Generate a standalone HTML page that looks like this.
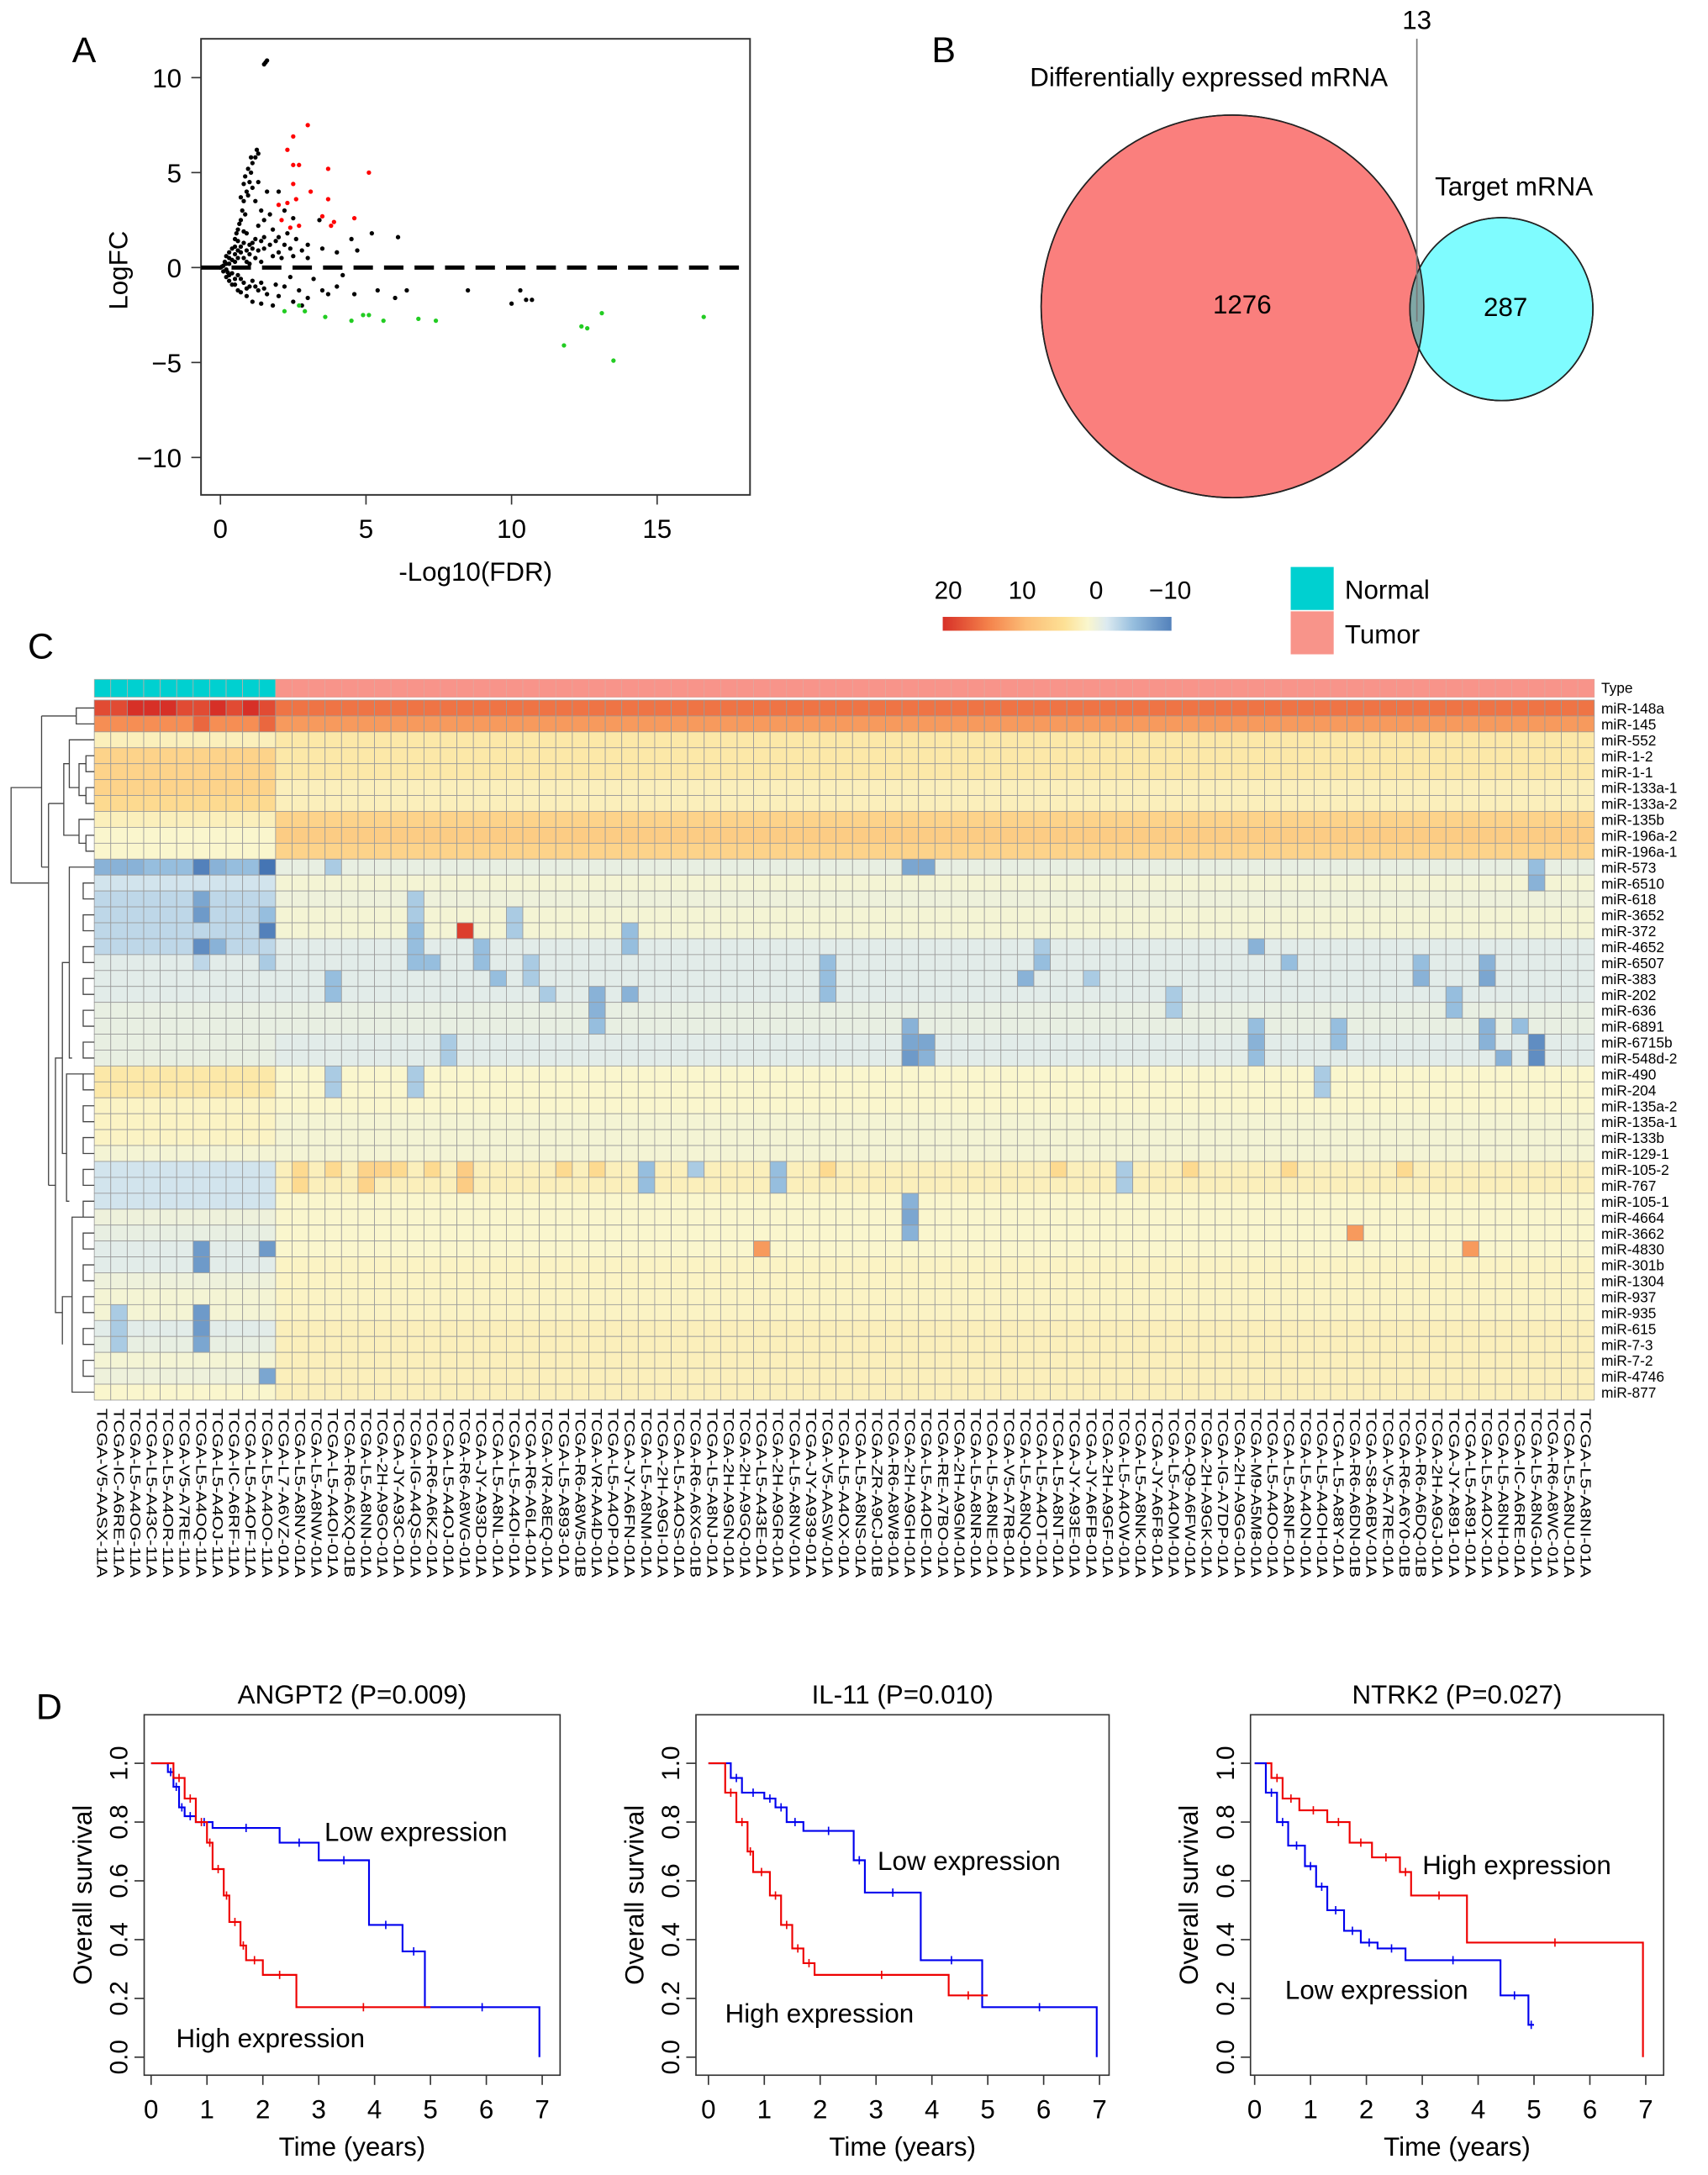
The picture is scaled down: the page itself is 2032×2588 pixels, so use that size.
<!DOCTYPE html>
<html><head><meta charset="utf-8">
<style>
html,body{margin:0;padding:0;background:#fff;}
svg{display:block;font-family:"Liberation Sans",Arial,sans-serif;}
</style></head>
<body>
<svg id="fig" width="2032" height="2588" viewBox="0 0 1232 1569" preserveAspectRatio="none" xmlns="http://www.w3.org/2000/svg">
<rect x="0" y="0" width="1232" height="1569" fill="#fff"/>
<g id="gA"></g>
<g id="gB"></g>
<g id="gC"></g>
<g id="gD"></g>
</svg>
<script>
// ---------- Panel A data ----------
const volBlack = [[1.6,10.9],[1.5,10.7],[1.55,10.8],[0.3,0.5],[0.4,1],[0.5,1.5],[0.6,2],[0.7,2.5],[0.75,3],[0.8,3.5],[0.9,4],[1.0,4.5],[1.05,5],[1.1,5.5],[1.2,5.8],[1.3,6],[0.95,3.8],[1.1,4.2],[0.85,2.8],[1.2,3.5],[1.4,3],[1.5,2.5],[1.8,2],[2.0,1.6],[2.3,1.8],[2.6,1.5],[3.0,1.2],[3.5,1.0],[4.0,0.8],[1.6,4],[2.0,4],[2.2,3],[1.3,4.5],[1.0,1.2],[1.5,1.0],[2.0,0.8],[2.5,0.6],[3,0.5],[4.5,1.5],[5.2,1.8],[4.7,0.9],[6.1,1.6],[0.2,0.2],[0.5,0.3],[0.8,0.5],[1.2,0.5],[0,0],[0.1,-0.2],[0.3,-0.4],[0.5,-0.6],[0.8,-0.8],[1.0,-1.0],[1.3,-1.2],[1.6,-1.4],[2,-1.5],[2.5,-1.8],[3,-1.6],[3.5,-1.2],[4,-1.0],[4.6,-1.4],[5.4,-1.2],[6,-1.6],[6.4,-1.2],[2.2,-1.0],[1.8,-2.0],[2.8,-2.0],[0.7,-1.3],[1.1,-1.8],[1.4,-1.9],[0.4,-0.9],[0.6,-1.2],[0.9,-1.5],[8.5,-1.2],[10.3,-1.2],[10.5,-1.7],[10.0,-1.9],[10.7,-1.7],[3.2,-0.6],[2.4,-0.5],[4.2,-0.4],[0.2,0.6],[0.6,0.9],[1.3,2.2],[1.7,2.8],[2.5,2.6],[3.4,2.5],[0.9,1.8],[1.1,1.3],[0.7,0.8],[1.4,0.3],[1.8,0.6],[0.4,-0.3],[1.9,-0.9],[2.7,-1.2],[3.7,-1.4],
[0.1,0.1],[0.2,-0.1],[0.3,0.2],[0.4,0.4],[0.5,0.7],[0.6,0.5],[0.7,1.1],[0.8,1.3],[0.9,0.9],[1.0,0.7],[1.1,1.0],[1.2,1.5],[1.3,0.9],[1.4,1.4],[1.5,1.6],[0.6,1.4],[0.8,1.9],[0.5,1.1],[0.3,0.8],[0.9,0.3],[1.0,0.2],[0.2,-0.5],[0.3,-0.7],[0.5,-0.9],[0.6,-0.4],[0.7,-0.6],[0.9,-1.1],[1.1,-0.7],[1.2,-1.0],[1.4,-0.8],[1.5,-1.1],[0.85,4.8],[0.95,5.2],[1.05,5.8],[0.8,4.4],[0.7,3.7],[1.25,6.2],[0.65,2.3],[0.55,1.8],[1.7,1.2],[2.2,1.2],[2.4,1.0],[2.8,0.9],[1.9,1.4],[2.1,0.5],[0.05,0.05],[0.15,0.3],[0.25,-0.25]];
const volRed = [[2.0,3.3],[2.3,3.4],[2.3,6.2],[2.5,5.4],[2.5,6.9],[3.0,7.5],[2.7,5.4],[3.7,5.2],[3.1,4.0],[3.7,3.6],[5.1,5.0],[2.1,2.5],[2.4,2.1],[2.7,2.2],[3.5,2.7],[3.8,2.2],[4.6,2.6],[2.5,4.4],[2.6,3.6],[3.9,2.4]];
const volGreen = [[2.2,-2.3],[2.7,-2.0],[2.9,-2.3],[3.6,-2.6],[4.5,-2.8],[4.9,-2.5],[5.1,-2.5],[5.6,-2.8],[6.8,-2.7],[7.4,-2.8],[11.8,-4.1],[12.4,-3.1],[12.6,-3.2],[13.1,-2.4],[13.5,-4.9],[16.6,-2.6]];
const volXTicks = [0,5,10,15];
const volYTicks = [10,5,0,-5,-10];

// ---------- Panel C data ----------
const mirRows = ["miR-148a","miR-145","miR-552","miR-1-2","miR-1-1","miR-133a-1","miR-133a-2","miR-135b","miR-196a-2","miR-196a-1","miR-573","miR-6510","miR-618","miR-3652","miR-372","miR-4652","miR-6507","miR-383","miR-202","miR-636","miR-6891","miR-6715b","miR-548d-2","miR-490","miR-204","miR-135a-2","miR-135a-1","miR-133b","miR-129-1","miR-105-2","miR-767","miR-105-1","miR-4664","miR-3662","miR-4830","miR-301b","miR-1304","miR-937","miR-935","miR-615","miR-7-3","miR-7-2","miR-4746","miR-877"];
const normalSamples = ["V5-AASX-11A","IC-A6RE-11A","L5-A4OG-11A","L5-A43C-11A","L5-A4OR-11A","V5-A7RE-11A","L5-A4OQ-11A","L5-A4OJ-11A","IC-A6RF-11A","L5-A4OF-11A","L5-A4OO-11A"];
const tumorSamples = ["L7-A6VZ-01A","L5-A8NV-01A","L5-A8NW-01A","L5-A4OI-01A","R6-A6XQ-01B","L5-A8NN-01A","2H-A9GO-01A","JY-A93C-01A","IG-A4QS-01A","R6-A6KZ-01A","L5-A4OJ-01A","R6-A8WG-01A","JY-A93D-01A","L5-A8NL-01A","L5-A4OI-01A","R6-A6L4-01A","VR-A8EQ-01A","L5-A893-01A","R6-A8W5-01B","VR-AA4D-01A","L5-A4OP-01A","JY-A6FN-01A","L5-A8NM-01A","2H-A9GI-01A","L5-A4OS-01A","R6-A6XG-01B","L5-A8NJ-01A","2H-A9GN-01A","2H-A9GQ-01A","L5-A43E-01A","2H-A9GR-01A","L5-A8NV-01A","JY-A939-01A","V5-AASW-01A","L5-A4OX-01A","L5-A8NS-01A","ZR-A9CJ-01B","R6-A8W8-01A","2H-A9GH-01A","L5-A4OE-01A","RE-A7BO-01A","2H-A9GM-01A","L5-A8NR-01A","L5-A8NE-01A","V5-A7RB-01A","L5-A8NQ-01A","L5-A4OT-01A","L5-A8NT-01A","JY-A93E-01A","JY-A6FB-01A","2H-A9GF-01A","L5-A4OW-01A","L5-A8NK-01A","JY-A6F8-01A","L5-A4OM-01A","Q9-A6FW-01A","2H-A9GK-01A","IG-A7DP-01A","2H-A9GG-01A","M9-A5M8-01A","L5-A4OO-01A","L5-A8NF-01A","L5-A4ON-01A","L5-A4OH-01A","L5-A88Y-01A","R6-A6DN-01B","S8-A6BV-01A","V5-A7RE-01A","R6-A6Y0-01B","R6-A6DQ-01B","2H-A9GJ-01A","JY-A891-01A","L5-A891-01A","L5-A4OX-01A","L5-A8NH-01A","IC-A6RE-01A","L5-A8NG-01A","R6-A8WC-01A","L5-A8NU-01A","L5-A8NI-01A"];
const normalMean = [18,13,2,6,6,6,5,2,1,1,-5,-2,-3,-3,-3,-3,-1,-1,-1,-0.5,-0.5,-0.5,-0.5,3,3,1.5,1.5,1.5,0.5,-2,-2,-2,0,-0.5,-1,-1,0,0.5,0.5,-1,-0.5,0.5,0,1];
const tumorMean = [15,12,3,3,3,2,2,6,7,6,-0.5,0.5,0,0.5,0.5,-1,-1,-1,-1,-0.5,-0.5,-1,-1,1,1,1,0.5,0.5,0.5,2,2,1,1,1,1,1.5,1.5,1.5,1.5,2,2,2,2,2];
// notable cells: [row, col, value]
const cellOverrides = [[14,22,19],[0,2,20],[0,3,20],[0,4,20],[0,7,20],[0,9,20],[1,6,16],[1,10,16],
[10,6,-10],[10,10,-11],[10,0,-6],[10,1,-6],[10,2,-6],[10,3,-5],[10,4,-5],[10,7,-6],[10,49,-7],[10,50,-7],[10,87,-5],
[11,87,-6],[12,6,-7],[13,6,-8],[13,10,-5],[14,10,-10],[15,6,-9],[15,7,-6],[16,6,-3],[16,10,-4],
[17,56,-6],[18,32,-6],[21,49,-7],[21,50,-7],[21,87,-9],[22,49,-8],[22,50,-6],[22,87,-9],[22,85,-6],[20,49,-6],[32,49,-7],[33,49,-6],
[29,12,5],[29,14,5],[29,16,6],[29,17,6],[29,18,5],[29,20,5],[29,22,7],[30,12,5],[30,16,6],[30,22,7],[29,44,5],[29,58,5],
[33,76,12],[34,40,12],[34,83,12],[34,6,-8],[34,10,-8],[35,6,-8],[38,6,-8],[39,6,-8],[40,6,-7],[42,10,-7],[38,1,-4],[39,1,-4],[40,1,-4],
[14,32,-5],[15,32,-5],[16,20,-5],[17,24,-5],[18,27,-4],[15,70,-6],[16,72,-5],[17,80,-6],[18,82,-5],[16,84,-6],[17,84,-7],[19,82,-5],
[10,14,-4],[12,19,-4],[13,19,-4],[14,19,-5],[15,19,-5],[16,19,-5],[17,14,-5],[18,14,-5],[15,23,-5],[16,23,-5],[16,26,-4],[17,26,-4],[18,30,-6],[19,30,-6],[20,30,-5],[21,21,-4],[22,21,-4],[23,14,-4],[24,14,-4],[23,19,-4],[24,19,-4],[13,25,-4],[14,25,-4],
[16,44,-5],[17,44,-5],[18,44,-5],[15,57,-4],[16,57,-5],[17,60,-4],[18,65,-4],[19,65,-4],[20,70,-5],[21,70,-6],[22,70,-5],[20,75,-5],[21,75,-5],[16,80,-5],[20,84,-6],[21,84,-6],[20,86,-5],[23,74,-4],[24,74,-4],
[29,33,-5],[30,33,-5],[29,36,-4],[29,41,-5],[30,41,-5],[31,49,-6],[29,62,-4],[30,62,-4],[29,66,5],[29,72,5],[29,79,5],[29,28,5],[29,30,5]];
const legendTicks = [20,10,0,-10];

// ---------- Panel D data ----------
const kmTitles = ["ANGPT2 (P=0.009)","IL-11 (P=0.010)","NTRK2 (P=0.027)"];
const km1LowT = [0,0.3,0.4,0.5,0.6,0.8,1.1,2.3,3.0,3.9,4.5,4.9,6.95];
const km1LowS = [1,0.97,0.92,0.85,0.82,0.80,0.78,0.73,0.67,0.45,0.36,0.17,0];
const km1HighT = [0,0.4,0.6,0.8,1.0,1.1,1.3,1.4,1.6,1.7,2.0,2.6,5.0];
const km1HighS = [1,0.95,0.88,0.80,0.73,0.64,0.55,0.46,0.38,0.33,0.28,0.17,0.17];
const km2LowT = [0,0.4,0.6,1.0,1.2,1.4,1.7,2.6,2.8,3.8,4.9,6.95];
const km2LowS = [1,0.95,0.90,0.88,0.85,0.80,0.77,0.67,0.56,0.33,0.17,0];
const km2HighT = [0,0.3,0.5,0.7,0.8,1.1,1.3,1.5,1.7,1.9,4.3,5.0];
const km2HighS = [1,0.9,0.8,0.7,0.63,0.55,0.45,0.37,0.32,0.28,0.21,0.21];
const km3HighT = [0,0.3,0.5,0.8,1.3,1.7,2.1,2.6,2.8,3.8,6.95];
const km3HighS = [1,0.95,0.88,0.84,0.80,0.73,0.68,0.63,0.55,0.39,0];
const km3LowT = [0,0.2,0.4,0.6,0.9,1.1,1.3,1.6,1.9,2.2,2.7,4.4,4.9,5.0];
const km3LowS = [1,0.9,0.8,0.72,0.65,0.58,0.5,0.43,0.39,0.37,0.33,0.21,0.11,0.11];
const kmXTicks = [0,1,2,3,4,5,6,7];
const kmYTicks = [0,0.2,0.4,0.6,0.8,1.0];

const NS="http://www.w3.org/2000/svg";
function mk(parent,tag,attrs,text){const e=document.createElementNS(NS,tag);for(const k in attrs)e.setAttribute(k,attrs[k]);if(text!==undefined)e.textContent=text;parent.appendChild(e);return e;}

// ===== Panel A =====
(function(){
const g=document.getElementById('gA');
const xS=v=>159+v*21.0, yS=v=>193-v*13.7;
let t=mk(g,'text',{x:52,y:45,'font-size':26},'A');


let b=mk(g,'rect',{x:145,y:28,width:396,height:329,fill:'none',stroke:'#333','stroke-width':1.2});


let dl=mk(g,'line',{x1:145,x2:541,y1:yS(0),y2:yS(0),stroke:'#000','stroke-width':3,'stroke-dasharray':'14 8'});


volXTicks.forEach(v=>{mk(g,'line',{x1:xS(v),x2:xS(v),y1:357,y2:364,stroke:'#333'});
 let l=mk(g,'text',{x:xS(v),y:388,'font-size':19,'text-anchor':'middle'},String(v));
 
 });
volYTicks.forEach(v=>{mk(g,'line',{x1:138,x2:145,y1:yS(v),y2:yS(v),stroke:'#333'});
 let l=mk(g,'text',{x:131,y:yS(v)+7,'font-size':19,'text-anchor':'end'},v<0?'\u2212'+(-v):String(v));
 
 });
let xt=mk(g,'text',{x:343,y:419,'font-size':19,'text-anchor':'middle'},'-Log10(FDR)');


let yt=mk(g,'text',{x:0,y:0,'font-size':19,'text-anchor':'middle',transform:'translate(92,195) rotate(-90)'},'LogFC');


[[volBlack,'#000'],[volRed,'#f00'],[volGreen,'#2c2']].forEach(([arr,c])=>arr.forEach(p=>{
 let d=mk(g,'circle',{cx:xS(p[0]),cy:yS(p[1]),r:1.6,fill:c});
 
 }));
})();

// ===== Panel B =====
(function(){
const g=document.getElementById('gB');
let t=mk(g,'text',{x:672,y:45,'font-size':26},'B');


let c1=mk(g,'circle',{cx:889,cy:221,r:138,fill:'#fa7f7d',stroke:'#222','stroke-width':1});


let c2=mk(g,'circle',{cx:1083,cy:223,r:66,fill:'#7ffcff',stroke:'#222','stroke-width':1});


let ov=mk(g,'path',{d:'M1024,192 A66,66 0 0 0 1024,251 A138,138 0 0 0 1024,192 Z',fill:'#7fa7a5'});


mk(g,'circle',{cx:889,cy:221,r:138,fill:'none',stroke:'#222','stroke-width':1});
mk(g,'circle',{cx:1083,cy:223,r:66,fill:'none',stroke:'#222','stroke-width':1});
mk(g,'line',{x1:1022,x2:1022,y1:28,y2:232,stroke:'#777','stroke-width':1});
const labs=[[1022,21,'13','intersection-count'],[872,62,'Differentially expressed mRNA','deg-label'],[1092,141,'Target mRNA','target-label'],[896,226,'1276','deg-count'],[1086,228,'287','target-count']];
labs.forEach(l=>{let e=mk(g,'text',{x:l[0],y:l[1],'font-size':19,'text-anchor':'middle'},l[2]);
 
 });
})();

// ===== Panel C =====
(function(){
const g=document.getElementById('gC');
const samples=normalSamples.concat(tumorSamples);
const nC=samples.length,nR=mirRows.length;
const x0=68,x1=1150,y0=505,y1=1010,cw=(x1-x0)/nC,rh=(y1-y0)/nR;
const stops=[[-11,[69,117,180]],[-5,[150,190,222]],[-1.5,[220,234,240]],[1,[250,246,205]],[4,[253,225,150]],[9,[252,190,120]],[14,[244,130,75]],[20,[215,48,39]]];
function col(v){if(v<=stops[0][0])return 'rgb('+stops[0][1]+')';for(let i=1;i<stops.length;i++){if(v<=stops[i][0]){const a=stops[i-1],b=stops[i],f=(v-a[0])/(b[0]-a[0]);return 'rgb('+a[1].map((c,k)=>Math.round(c+(b[1][k]-c)*f)).join(',')+')';}}return 'rgb('+stops[stops.length-1][1]+')';}
let t=mk(g,'text',{x:20,y:475,'font-size':26},'C');


const lx=(v)=>684+(20-v)*(160/30);
const grad=mk(g,'defs',{});
const lg=mk(grad,'linearGradient',{id:'lgC',x1:0,x2:1,y1:0,y2:0});
[20,14,9,4,1,-1.5,-5,-10].forEach(v=>mk(lg,'stop',{offset:((20-v)/30),'stop-color':col(v)}));
let lb=mk(g,'rect',{x:680,y:445,width:165,height:10,fill:'url(#lgC)'});


legendTicks.forEach(v=>{let e=mk(g,'text',{x:lx(v),y:432,'font-size':18,'text-anchor':'middle'},v<0?'\u2212'+(-v):String(v));
 
 });
let n1=mk(g,'rect',{x:931,y:409,width:31,height:31,fill:'#00d0d0'});


let n2=mk(g,'rect',{x:931,y:441,width:31,height:31,fill:'#f8948a'});


let n3=mk(g,'text',{x:970,y:432,'font-size':19},'Normal');


let n4=mk(g,'text',{x:970,y:464,'font-size':19},'Tumor');


samples.forEach((s,i)=>{let r=mk(g,'rect',{x:x0+i*cw,y:490,width:cw,height:13,fill:i<normalSamples.length?'#00d0d0':'#f8948a',stroke:'#e0a8a0','stroke-width':0.4});
 
 });
let ty=mk(g,'text',{x:1155,y:500,'font-size':10.5},'Type');


const ov={};cellOverrides.forEach(o=>{ov[o[0]+'_'+o[1]]=o[2];});
for(let r=0;r<nR;r++){for(let c=0;c<nC;c++){
 let v=c<normalSamples.length?normalMean[r]:tumorMean[r];
 if(ov[r+'_'+c]!==undefined)v=ov[r+'_'+c];
 let e=mk(g,'rect',{x:(x0+c*cw).toFixed(2),y:(y0+r*rh).toFixed(2),width:cw.toFixed(2),height:rh.toFixed(2),fill:col(v),stroke:'#9a9a9a','stroke-width':0.5});
 
 }
 let l=mk(g,'text',{x:1155,y:y0+r*rh+rh/2+4,'font-size':10.5},mirRows[r]);
 
 }
samples.forEach((s,i)=>{const cx=x0+i*cw+cw/2;
 let l=mk(g,'text',{x:0,y:0,'font-size':10.6,transform:'translate('+(cx-3.8)+',1016) rotate(90)','textLength':122,'lengthAdjust':'spacingAndGlyphs'},'TCGA-'+s);
 
 });
const ry=i=>y0+i*rh+rh/2;
const dg=mk(g,'g',{stroke:'#444','stroke-width':0.8,fill:'none'});


let d='';
d+=`M68,${ry(0)}H55V${ry(1)}H68 M55,${(ry(0)+ry(1))/2}H30`;
d+=`M68,${ry(3)}H62V${ry(4)}H68 M68,${ry(5)}H62V${ry(6)}H68 M62,${(ry(3)+ry(4))/2}H57V${(ry(5)+ry(6))/2}H62 M68,${ry(2)}H50V${ry(5)}H57`;
d+=`M68,${ry(8)}H62V${ry(9)}H68 M68,${ry(7)}H57V${(ry(8)+ry(9))/2}H62 M50,${ry(3.5)}H46V${ry(8)}H57 M46,${ry(6)}H35`;
d+=`M68,${ry(10)}H50V${ry(22)}H52 M68,${ry(23)}H48V${ry(31)}H50 M68,${ry(32)}H52V${ry(43)}H68`;
for(let i=11;i<43;i+=2){d+=`M68,${ry(i)}H60V${ry(i+1)}H68`;}
d+=`M50,${ry(16)}H45V${ry(28)}H48 M52,${ry(37)}H45V${ry(40)}H45 M45,${ry(22)}H40V${ry(38)}H45 M40,${ry(30)}H35`;
d+=`M35,${ry(6)}V${ry(30)} M35,${ry(10)}H30 M30,${(ry(0)+ry(1))/2}V${ry(10)} M30,${ry(5)}H8V${ry(11)}H35`;
mk(dg,'path',{d:d});
})();

// ===== Panel D =====
(function(){
const g=document.getElementById('gD');
let t=mk(g,'text',{x:26,y:1240,'font-size':26},'D');


const boxes=[[104,404,109],[502,800,511],[902,1200,905]];
const yS=v=>1484-v*212;
const curves=[[[km1LowT,km1LowS,'#0000ee'],[km1HighT,km1HighS,'#ee0000']],[[km2LowT,km2LowS,'#0000ee'],[km2HighT,km2HighS,'#ee0000']],[[km3HighT,km3HighS,'#ee0000'],[km3LowT,km3LowS,'#0000ee']]];
const notes=[[[234,1328,'Low expression'],[127,1477,'High expression']],[[633,1349,'Low expression'],[523,1459,'High expression']],[[1026,1352,'High expression'],[927,1442,'Low expression']]];
boxes.forEach((bx,k)=>{
 const xS=v=>bx[2]+v*40.3;
 let fr=mk(g,'rect',{x:bx[0],y:1237,width:bx[1]-bx[0],height:260,fill:'none',stroke:'#333','stroke-width':1});
 
 
 let ti=mk(g,'text',{x:(bx[0]+bx[1])/2,y:1229,'font-size':19,'text-anchor':'middle'},kmTitles[k]);
 
 
 kmXTicks.forEach(v=>{mk(g,'line',{x1:xS(v),x2:xS(v),y1:1497,y2:1504,stroke:'#333'});
  let l=mk(g,'text',{x:xS(v),y:1528,'font-size':19,'text-anchor':'middle'},String(v));
  
  });
 kmYTicks.forEach(v=>{mk(g,'line',{x1:bx[0]-7,x2:bx[0],y1:yS(v),y2:yS(v),stroke:'#333'});
  let l=mk(g,'text',{x:0,y:0,'font-size':18,'text-anchor':'middle',transform:'translate('+(bx[0]-12)+','+yS(v)+') rotate(-90)'},v.toFixed(1));
  
  });
 let xt=mk(g,'text',{x:(bx[0]+bx[1])/2,y:1555,'font-size':19,'text-anchor':'middle'},'Time (years)');
 
 
 let yt=mk(g,'text',{x:0,y:0,'font-size':19,'text-anchor':'middle',transform:'translate('+(bx[0]-38)+',1367) rotate(-90)'},'Overall survival');
 
 
 curves[k].forEach(cv=>{const T=cv[0],S=cv[1];let d='M'+xS(T[0])+','+yS(S[0]);
  for(let i=1;i<T.length;i++){d+='H'+xS(T[i])+'V'+yS(S[i]);}
  let p=mk(g,'path',{d:d,fill:'none',stroke:cv[2],'stroke-width':1.3});
  
  
  for(let i=1;i<T.length-1;i++){const xm=(xS(T[i])+xS(T[i+1]))/2;mk(g,'line',{x1:xm,x2:xm,y1:yS(S[i])-3,y2:yS(S[i])+3,stroke:cv[2],'stroke-width':1});}
 });
 notes[k].forEach(n=>{let e=mk(g,'text',{x:n[0],y:n[1],'font-size':19},n[2]);
  
  });
});
})();
</script>
</body></html>
